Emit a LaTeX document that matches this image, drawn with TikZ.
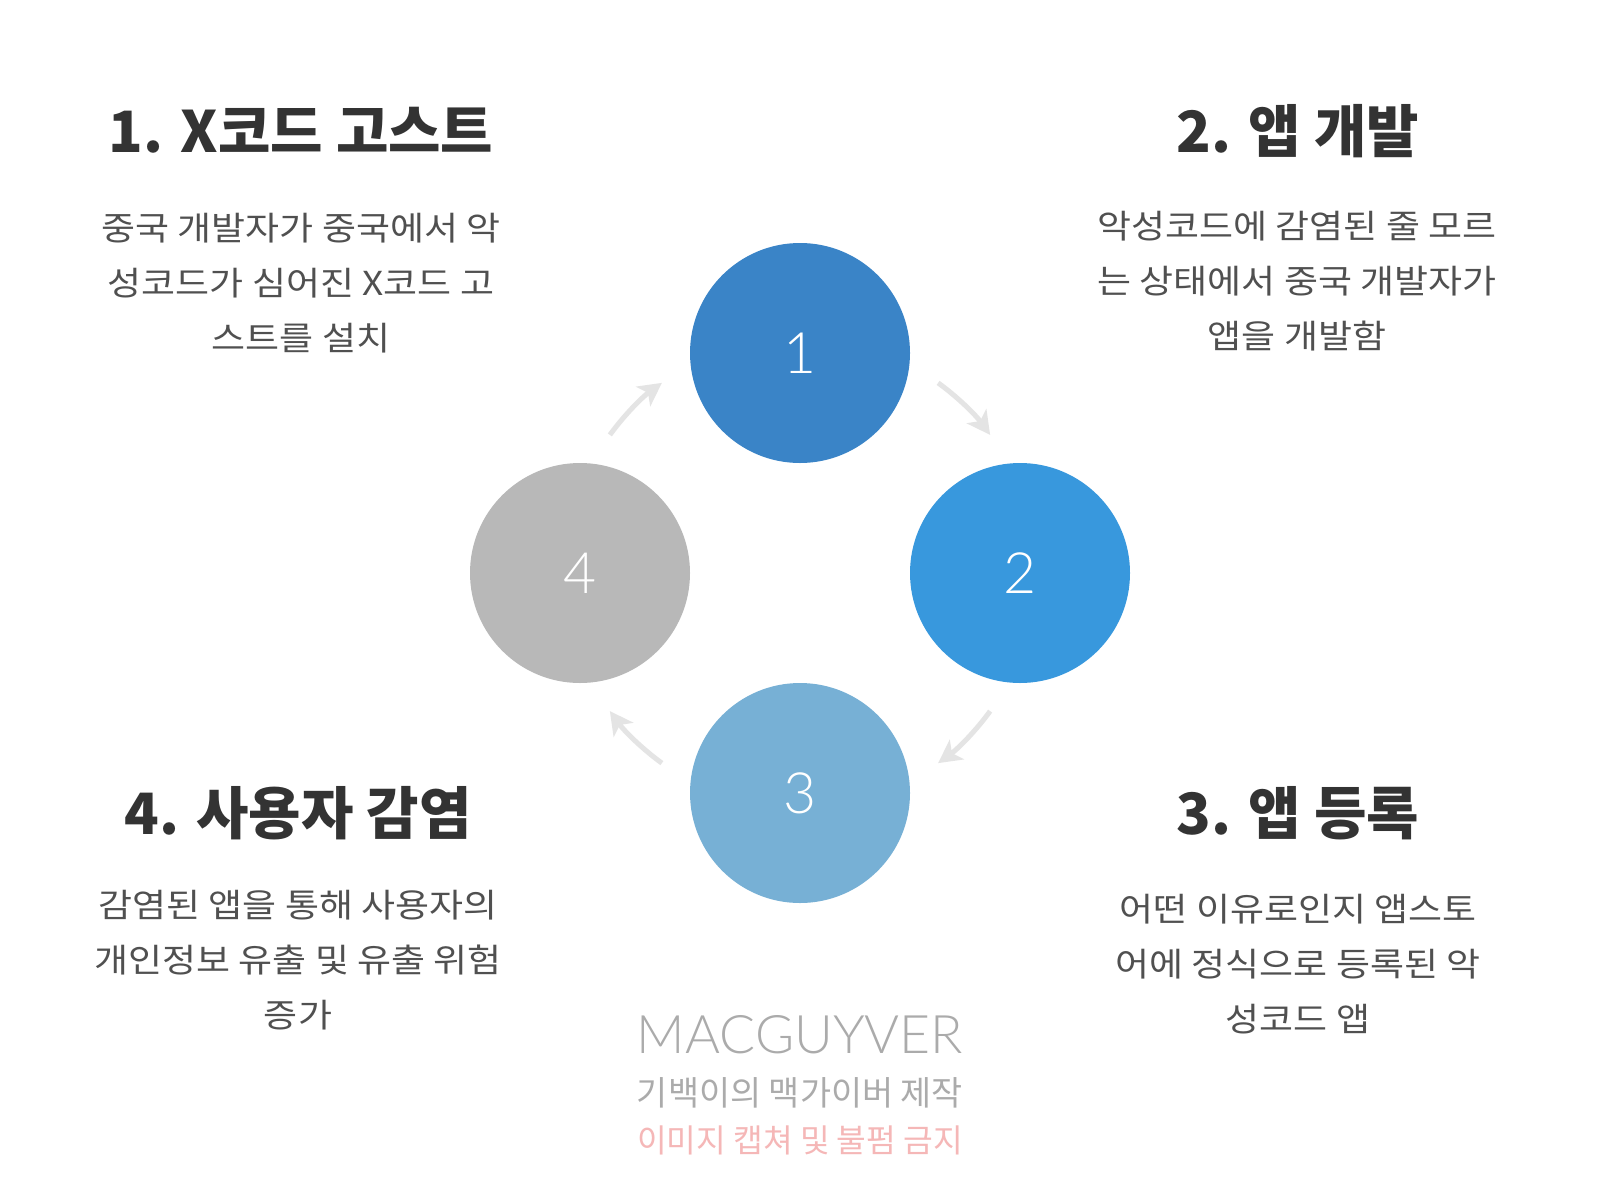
\documentclass[tikz,border=0pt]{standalone}
\usepackage{fontspec}
\setmainfont{Noto Sans CJK KR}
\newfontfamily\bodyfont{Noto Sans CJK KR}[FakeStretch=1.12]
\newfontfamily\numfont{Lato Light}
\usetikzlibrary{arrows.meta,calc}
\definecolor{cOne}{HTML}{3A84C7}
\definecolor{cTwo}{HTML}{3898DD}
\definecolor{cThree}{HTML}{77B0D5}
\definecolor{cFour}{HTML}{B8B8B8}
\definecolor{titlegray}{HTML}{333333}
\definecolor{bodygray}{HTML}{505050}
\definecolor{arrowgray}{HTML}{E4E4E4}
\definecolor{markgray}{HTML}{ABABAB}
\definecolor{markpink}{HTML}{F5B7B7}
\begin{document}
\begin{tikzpicture}[x=1pt,y=-1pt,
  stage/.style={circle,minimum size=220pt,inner sep=0pt,text=white,
    font=\numfont\fontsize{57}{57}\selectfont},
  titletext/.style={anchor=base,text=titlegray,inner sep=0pt,
    font=\bfseries\fontsize{57}{60}\selectfont},
  bodytext/.style={align=center,text=bodygray,inner sep=0pt,
    font=\bodyfont\fontsize{33}{55}\selectfont},
  cyc/.style={draw=arrowgray,line width=5pt,
    -{Stealth[length=23pt,width=24pt,inset=6pt]}},
  wmark/.style={inner sep=0pt,anchor=base}
]
\useasboundingbox (0,0) rectangle (1600,1186);
\fill[white] (0,0) rectangle (1600,1186);

% circles
\node[stage,fill=cOne] (c1) at (800,353) {1};
\node[stage,fill=cTwo] (c2) at (1020,573) {2};
\node[stage,fill=cThree] (c3) at (800,793) {3};
\node[stage,fill=cFour] (c4) at (580,573) {4};

% cycle arrows
\coordinate (ctr) at (800,573);
\coordinate (a1) at ($(ctr)+(216:235)$);
\coordinate (a2) at ($(ctr)+(306:235)$);
\coordinate (a3) at ($(ctr)+(36:235)$);
\coordinate (a4) at ($(ctr)+(126:235)$);
\draw[cyc] (a1) arc[start angle=216,end angle=234,radius=235];
\draw[cyc] (a2) arc[start angle=306,end angle=324,radius=235];
\draw[cyc] (a3) arc[start angle=36,end angle=54,radius=235];
\draw[cyc] (a4) arc[start angle=126,end angle=144,radius=235];

% titles
\node[titletext] (t1) at (301,152) {1. X코드 고스트};
\node[titletext] (t2) at (1298,152) {2. 앱 개발};
\node[titletext] (t3) at (1298,834) {3. 앱 등록};
\node[titletext] (t4) at (298,834) {4. 사용자 감염};

% bodies
\node[bodytext] (b1) at (301,283) {중국 개발자가 중국에서 악\\성코드가 심어진 X코드 고\\스트를 설치};
\node[bodytext] (b2) at (1297,281) {악성코드에 감염된 줄 모르\\는 상태에서 중국 개발자가\\앱을 개발함};
\node[bodytext] (b3) at (1298,964) {어떤 이유로인지 앱스토\\어에 정식으로 등록된 악\\성코드 앱};
\node[bodytext] (b4) at (298,960) {감염된 앱을 통해 사용자의\\개인정보 유출 및 유출 위험\\증가};

% watermark
\node[wmark,text=markgray] (w1) at (800,1053) {\resizebox{326pt}{38pt}{\numfont MACGUYVER}};
\node[wmark,text=markgray] (w2) at (800,1105) {\resizebox{326pt}{!}{\fontsize{31}{31}\selectfont 기백이의 맥가이버 제작}};
\node[wmark,text=markpink] (w3) at (800,1152) {\resizebox{326pt}{!}{\fontsize{31}{31}\selectfont 이미지 캡쳐 및 불펌 금지}};
\end{tikzpicture}
\end{document}
